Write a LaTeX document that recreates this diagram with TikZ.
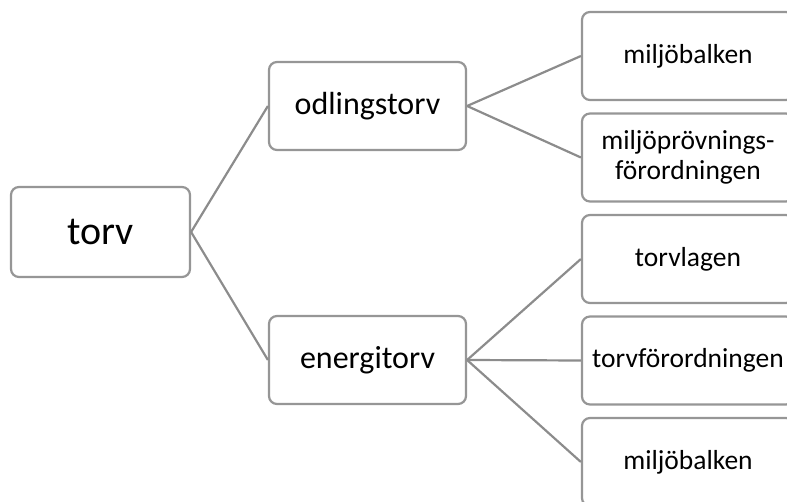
\documentclass[tikz,border=0pt]{standalone}
\usepackage{fontspec}
\setmainfont{Carlito}
\definecolor{edgegray}{RGB}{140,140,140}
\definecolor{boxgray}{RGB}{150,150,150}
\tikzset{
  box/.style={draw=boxgray, line width=2.2pt, rounded corners=8pt, fill=white, inner sep=0pt, align=center, text=black},
  level0/.style={box, minimum width=179pt, minimum height=90pt, font=\fontsize{40}{44}\selectfont},
  level1/.style={box, minimum width=197pt, minimum height=88pt, font=\fontsize{32}{36}\selectfont},
  level2/.style={box, minimum width=212pt, minimum height=88pt, font=\fontsize{27.5}{30}\selectfont},
  link/.style={draw=edgegray, line width=2.2pt}
}
\begin{document}
\begin{tikzpicture}[x=1pt, y=-1pt]
\useasboundingbox (0,0) rectangle (787,502);
\clip (0,0) rectangle (787,502);
\node[level0] (torv) at (100.5,232) {torv};
\node[level1] (odl) at (367.5,106) {odlingstorv};
\node[level1] (ene) at (367.5,360) {energitorv};
\node[level2] (mb1) at (688,56) {miljöbalken};
\node[level2] (mpf) at (688,157.5) {miljöprövnings-\\förordningen};
\node[level2] (tl) at (688,259) {torvlagen};
\node[level2] (tf) at (688,360.5) {torvförordningen};
\node[level2] (mb2) at (688,462) {miljöbalken};
\draw[link] (torv.east) -- (odl.west);
\draw[link] (torv.east) -- (ene.west);
\draw[link] (odl.east) -- (mb1.west);
\draw[link] (odl.east) -- (mpf.west);
\draw[link] (ene.east) -- (tl.west);
\draw[link] (ene.east) -- (tf.west);
\draw[link] (ene.east) -- (mb2.west);
\end{tikzpicture}
\end{document}
